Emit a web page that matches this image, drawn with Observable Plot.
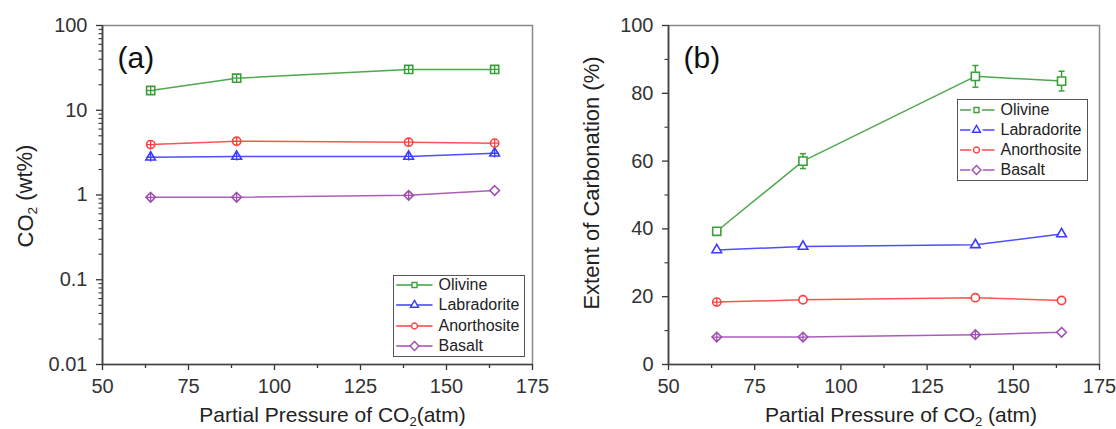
<!DOCTYPE html>
<html><head><meta charset="utf-8">
<script src="https://cdn.jsdelivr.net/npm/d3@7"></script>
<script src="https://cdn.jsdelivr.net/npm/@observablehq/plot@0.6"></script>
<style>
body{margin:0;background:#fff;}
#wrap{position:relative;width:1116px;height:429px;display:flex;font-family:"Liberation Sans",Arial,sans-serif;overflow:hidden;}
#wrap svg{overflow:visible;}
.legend{position:absolute;border:1.5px solid #555;background:#fff;box-sizing:border-box;}
.row{position:absolute;left:0;height:20px;width:100%;}
.row svg{position:absolute;left:0;top:0;}
.row span{position:absolute;top:0;font-size:16px;line-height:20px;color:#222;white-space:nowrap;}
</style></head><body><div id="wrap"></div>
<script>
// ---- data ----
const pressure = [64, 89, 139, 164];
const minerals = ["Olivine", "Labradorite", "Anorthosite", "Basalt"];
const colors = ["#3c9f3c", "#3b3bff", "#ff4040", "#a04db4"];
const symbols = ["square2", "triangle2", "circle", "diamond2"];
const symbolR = [5.2, 4.6, 4.1, 4.3];

// panel (a): CO2 (wt%)
const co2Olivine = [17.1, 23.9, 30.3, 30.3];
const co2Labradorite = [2.79, 2.85, 2.85, 3.11];
const co2Anorthosite = [3.94, 4.31, 4.2, 4.09];
const co2Basalt = [0.94, 0.94, 0.99, 1.13];
const crossA = {Olivine: [1,1,1,1], Labradorite: [1,1,1,1], Anorthosite: [1,1,1,1], Basalt: [1,1,1,0]};

// panel (b): extent of carbonation (%)
const carbOlivine = [39.3, 60.0, 85.0, 83.6];
const carbLabradorite = [33.8, 34.8, 35.3, 38.5];
const carbAnorthosite = [18.4, 19.1, 19.7, 18.9];
const carbBasalt = [8.1, 8.1, 8.8, 9.5];
const carbOlivineErr = [0.6, 2.2, 3.2, 2.9];
const crossB = {Olivine: [0,0,0,0], Labradorite: [0,0,0,0], Anorthosite: [1,0,0,0], Basalt: [1,1,1,0]};

// axes
const xDomain = [50, 175];
const xMajor = [50, 75, 100, 125, 150, 175];
const xMinor = [62.5, 87.5, 112.5, 137.5, 162.5];
const yDomainA = [0.01, 100];
const yMajorA = [0.01, 0.1, 1, 10, 100];
const yMajorALabels = ["0.01", "0.1", "1", "10", "100"];
const yMinorA = [0.01, 0.1, 1, 10].flatMap(d => [2,3,4,5,6,7,8,9].map(k => +(k * d).toPrecision(3)));
const yDomainB = [0, 100];
const yMajorB = [0, 20, 40, 60, 80, 100];
const yMinorB = [10, 30, 50, 70, 90];

const seriesA = {Olivine: co2Olivine, Labradorite: co2Labradorite, Anorthosite: co2Anorthosite, Basalt: co2Basalt};
const seriesB = {Olivine: carbOlivine, Labradorite: carbLabradorite, Anorthosite: carbAnorthosite, Basalt: carbBasalt};
const errB = {Olivine: carbOlivineErr};

const capSymbol = {draw(ctx, size) { const w = Math.sqrt(size) / 2; ctx.moveTo(-w, 0); ctx.lineTo(w, 0); }};

function panel(o) {
  const marks = [Plot.frame({stroke: "#8a8a8a", strokeWidth: 1.5})];
  marks.push(
    Plot.axisX(xMajor, {tickSize: 6, tickPadding: 8, color: "#333", strokeWidth: 1.3, label: null}),
    Plot.axisX(xMinor, {tickSize: 4, tickFormat: () => "", color: "#333", strokeWidth: 1.3, label: null}),
    Plot.axisY(o.yMajor, {tickSize: 6, tickPadding: 9, color: "#333", strokeWidth: 1.3, label: null,
      tickFormat: o.yFmt}),
    Plot.axisY(o.yMinor, {tickSize: 3.5, tickFormat: () => "", color: "#333", strokeWidth: 1.1, label: null}),
    Plot.ruleX([xDomain[0]], {stroke: "#444", strokeWidth: 1.7}),
    Plot.ruleY([o.yDomain[0]], {stroke: "#444", strokeWidth: 1.7})
  );
  minerals.forEach((m, i) => {
    const rows = pressure.map((p, j) => ({p, v: o.series[m][j], e: o.err && o.err[m] ? o.err[m][j] : 0, c: o.cross[m][j]}));
    marks.push(Plot.line(rows, {x: "p", y: "v", stroke: colors[i], strokeWidth: 1.5, strokeOpacity: 0.9}));
    if (o.err && o.err[m]) {
      marks.push(
        Plot.ruleX(rows, {x: "p", y1: d => d.v - d.e, y2: d => d.v + d.e, stroke: colors[i], strokeWidth: 1.5}),
        Plot.dot(rows, {x: "p", y: d => d.v + d.e, symbol: capSymbol, r: 3.4, stroke: colors[i], strokeWidth: 1.5}),
        Plot.dot(rows, {x: "p", y: d => d.v - d.e, symbol: capSymbol, r: 3.4, stroke: colors[i], strokeWidth: 1.5})
      );
    }
    marks.push(Plot.dot(rows, {x: "p", y: "v", symbol: symbols[i], r: symbolR[i], stroke: colors[i], fill: "white", strokeWidth: 1.6}));
    marks.push(Plot.dot(rows.filter(d => d.c), {x: "p", y: "v", symbol: "plus", r: 2.8, stroke: colors[i], strokeWidth: 1.3}));
  });
  marks.push(
    Plot.text([o.tag], {frameAnchor: "top-left", dx: 15, dy: 32.5, fontSize: 30, textAnchor: "start", lineAnchor: "middle", fill: "#111"}),
    Plot.text([o.xLabel], {frameAnchor: "bottom", dx: o.xLabelDx, dy: 51, fontSize: 21, textAnchor: "middle", lineAnchor: "middle", fill: "#222"}),
    Plot.text([o.yLabel], {frameAnchor: "left", dx: -77, dy: o.yLabelDy, rotate: -90, fontSize: 22, textAnchor: "middle", lineAnchor: "middle", fill: "#222"})
  );
  return Plot.plot({
    width: 558, height: 429,
    marginLeft: o.marginLeft, marginRight: o.marginRight, marginTop: 25, marginBottom: 65,
    x: {domain: xDomain},
    y: {type: o.yType, domain: o.yDomain},
    style: {fontSize: "20px", fontFamily: "'Liberation Sans', Arial, sans-serif", background: "white", color: "#222"},
    marks
  });
}

function subscript(svg) {
  d3.select(svg).selectAll("text").each(function() {
    const t = this.textContent;
    if (!t.includes("₂")) return;
    const [a, b] = t.split("₂");
    const sel = d3.select(this);
    sel.text(null);
    sel.append("tspan").text(a);
    sel.append("tspan").attr("dy", "0.3em").attr("font-size", "0.62em").text("2");
    sel.append("tspan").attr("dy", "-0.19em").text(b);
  });
}

const wrap = document.getElementById("wrap");
const svgA = panel({
  marginLeft: 102, marginRight: 26, yType: "log", yDomain: yDomainA, yMajor: yMajorA, yMinor: yMinorA,
  yFmt: d => yMajorALabels[yMajorA.indexOf(d)], series: seriesA, cross: crossA, err: null,
  tag: "(a)", xLabel: "Partial Pressure of CO₂(atm)", xLabelDx: 15, yLabel: "CO₂ (wt%)", yLabelDy: 1
});
const svgB = panel({
  marginLeft: 110, marginRight: 17, yType: "linear", yDomain: yDomainB, yMajor: yMajorB, yMinor: yMinorB,
  yFmt: d => String(d), series: seriesB, cross: crossB, err: errB,
  tag: "(b)", xLabel: "Partial Pressure of CO₂ (atm)", xLabelDx: 17, yLabel: "Extent of Carbonation (%)", yLabelDy: -12
});
subscript(svgA); subscript(svgB);
wrap.append(svgA, svgB);

// ---- legends ----
const symbolTypes = [d3.symbolSquare2, d3.symbolTriangle2, d3.symbolCircle, d3.symbolDiamond2];
const legendSizes = [32, 46, 28, 50];
function legend(cfg) {
  const box = d3.select(wrap).append("div").attr("class", "legend")
    .style("left", cfg.left + "px").style("top", cfg.top + "px")
    .style("width", cfg.width + "px").style("height", cfg.height + "px");
  minerals.forEach((m, i) => {
    const row = box.append("div").attr("class", "row").style("top", (cfg.rowTop[i] - 10) + "px");
    const s = row.append("svg").attr("width", 42).attr("height", 20);
    const half = Math.sqrt(legendSizes[i]) * 0.6;
    if (cfg.gap) {
      s.append("line").attr("x1", cfg.lineX[0]).attr("x2", cfg.markX - half - 2).attr("y1", 10).attr("y2", 10).attr("stroke", colors[i]).attr("stroke-width", 1.4);
      s.append("line").attr("x1", cfg.markX + half + 2).attr("x2", cfg.lineX[1]).attr("y1", 10).attr("y2", 10).attr("stroke", colors[i]).attr("stroke-width", 1.4);
    } else {
      s.append("line").attr("x1", cfg.lineX[0]).attr("x2", cfg.lineX[1]).attr("y1", 10).attr("y2", 10).attr("stroke", colors[i]).attr("stroke-width", 1.4);
    }
    s.append("path").attr("d", d3.symbol(symbolTypes[i], legendSizes[i])())
      .attr("transform", `translate(${cfg.markX},10)`).attr("fill", "white").attr("stroke", colors[i]).attr("stroke-width", 1.4);
    row.append("span").style("left", cfg.textX + "px").text(m);
  });
}
legend({left: 393, top: 275, width: 132, height: 82, rowTop: [8.5, 28.5, 49.5, 70], lineX: [2.2, 38.5], markX: 20.5, textX: 44.5, gap: false});
legend({left: 956.5, top: 99.3, width: 131.5, height: 81.4, rowTop: [9.2, 29.9, 49.9, 69.9], lineX: [2, 36.5], markX: 18.5, textX: 43, gap: true});
</script>
</body></html>
